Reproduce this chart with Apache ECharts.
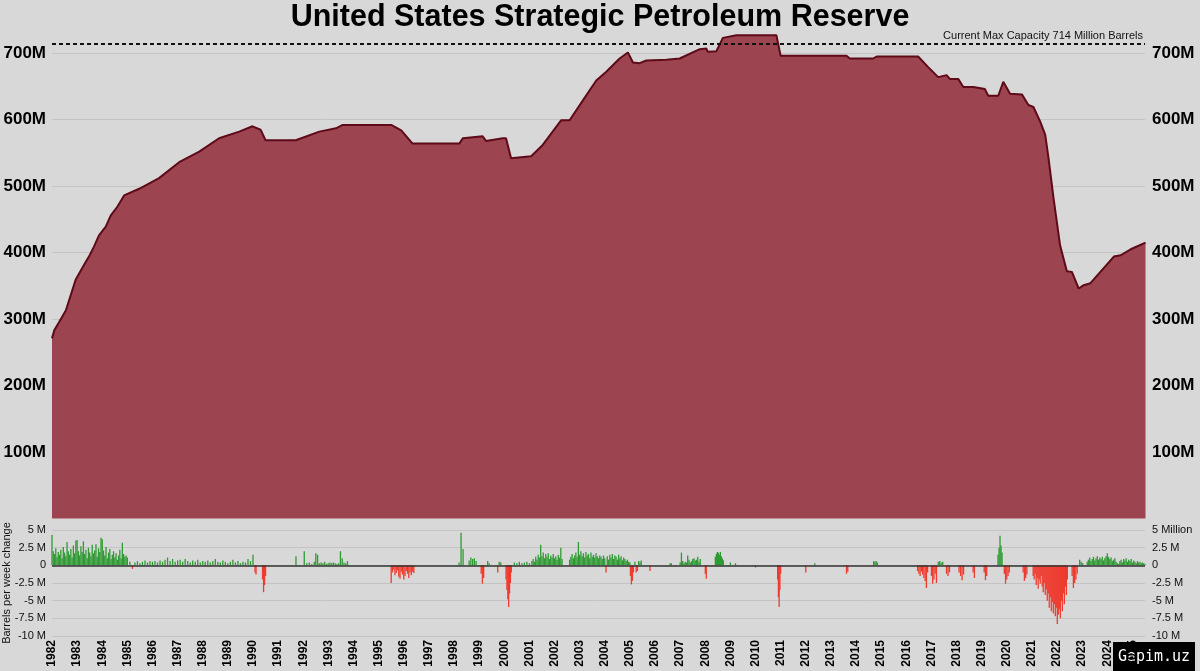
<!DOCTYPE html>
<html>
<head>
<meta charset="utf-8">
<script src="https://cdn.jsdelivr.net/npm/echarts@6/dist/echarts.min.js"></script>
<style>
  html, body { margin: 0; padding: 0; background: #d8d8d8; }
  #chart { width: 1200px; height: 671px; }
</style>
</head>
<body>
<div id="chart"></div>
<script>
// reserve level, million barrels, [year, value]
const reserveLevel = [
  [1982.00,271],[1982.09,283],[1982.29,296],[1982.55,313],[1982.94,359],[1983.34,386],[1983.47,394],
  [1983.67,409],[1983.87,426],[1984.14,439],[1984.34,456],[1984.60,469],[1984.87,486],[1985.47,496],
  [1986.26,512],[1987.06,536],[1987.86,552],[1988.65,572],[1989.45,582],[1989.98,590],[1990.30,585],
  [1990.50,569],[1991.70,569],[1992.64,582],[1993.30,587],[1993.57,592],[1995.50,592],[1995.90,584],
  [1996.35,564],[1998.21,564],[1998.35,572],[1999.14,575],[1999.27,568],[1999.94,572],[2000.07,572],
  [2000.27,542],[2001.07,545],[2001.53,562],[2002.26,599],[2002.60,599],[2003.13,629],[2003.66,659],
  [2004.06,672],[2004.59,692],[2004.92,701],[2005.12,686],[2005.39,685],[2005.65,689],[2006.45,690],
  [2006.98,692],[2007.78,706],[2008.04,707],[2008.10,702],[2008.44,703],[2008.70,723],[2009.24,727],
  [2010.83,727],[2011.00,696],[2012.03,696],[2013.62,696],[2013.75,692],[2014.68,692],[2014.82,695],
  [2016.47,695],[2016.87,679],[2017.27,664],[2017.60,667],[2017.74,661],[2018.07,661],[2018.27,649],
  [2018.67,649],[2018.73,646],[2019.13,646],[2019.26,636],[2019.66,636],[2019.86,657],[2020.13,639],
  [2020.60,638],[2020.86,622],[2021.06,619],[2021.33,597],[2021.53,577],[2021.66,542],[2021.86,482],
  [2022.12,411],[2022.39,372],[2022.59,371],[2022.86,346],[2023.06,351],[2023.33,354],[2024.26,394],
  [2024.53,396],[2024.93,405],[2025.52,415]
];

// weekly change, million barrels: [first year, spacing in years, values]
const changeBlocks = [
  [1982.00, 0.05, [4.3,2.0,1.6,2.4,1.2,1.9,1.5,2.2,1.0,2.6,1.8,1.3,3.3,2.0,1.5,2.3,1.1,2.8,1.7,3.5,
                   3.6,2.0,1.4,2.7,1.9,3.4,1.6,2.2,1.0,2.5,1.8,1.3,2.9,1.7,2.1,3.0,1.2,2.4,1.9,3.9,
                   3.7,2.1,1.4,2.6,1.0,1.8,2.3,0.9,1.5,2.0,1.1,1.7,0.8,1.4,2.2,1.0,3.2,1.6,1.2,1.4,1.1]],
  [1985.10, 0.1, [0.5,-0.5,0.4,0.6,0.3,0.5,0.7,0.4,0.6,
                  0.5,0.6,0.4,0.7,0.5,0.8,1.1,0.6,0.9,0.5,
                  0.7,0.8,0.5,0.9,0.6,0.4,0.7,0.5,0.8,0.4,
                  0.6,0.5,0.7,0.4,0.6,0.9,0.5,0.4,0.7,0.5,
                  0.3,0.5,0.8,0.4,0.6,0.3,0.5,0.4,0.9,0.6,1.5]],
  [1990.08, 0.04, [-1.0,-1.3]],
  [1990.38, 0.04, [-2.0,-3.8,-2.8,-1.5]],
  [1991.71, 0.05, [1.3]],
  [1992.04, 0.1, [2.0,0.3,0.4,0.2,0.5]],
  [1992.50, 0.07, [1.7,1.5,0.3,0.4,0.3,0.5,0.2,0.3,0.4,0.3,0.4,0.3,0.2,0.3,2.0,1.0,0.4,0.3,0.6]],
  [1995.50, 0.05, [-2.5,-1.0,-0.6,-1.4,-1.1,-0.7,-1.6,-1.9,-0.9,-1.3,-2.0,-1.5,-0.8,-1.2,-1.8,-1.0,-1.4,-0.9,-1.1]],
  [1998.20, 0.08, [0.4,4.6,2.3]],
  [1998.60, 0.07, [0.7,1.1,0.9,1.0,0.6]],
  [1999.08, 0.05, [-1.2,-2.6,-1.8]],
  [1999.34, 0.06, [0.6,0.3]],
  [1999.74, 0.06, [-1.0,0.5,0.4]],
  [2000.07, 0.035, [-2.0,-3.5,-4.8,-5.9,-4.0,-2.5,-1.0]],
  [2000.40, 0.1, [0.4,0.3,0.5,0.3,0.4,0.5,0.3]],
  [2001.10, 0.05, [0.6,0.9,0.5,1.2,0.8,1.5,1.1,2.9,1.3,1.8,1.0,1.6,1.2,1.7,0.9,1.4,1.1,1.6,1.0,1.3,0.8,1.5,1.1,2.5,0.9]],
  [2002.60, 0.05, [0.8,1.2,1.6,1.0,1.4,1.8,1.2,3.3,1.5,2.0,1.3,1.7,1.1,1.9,1.4,1.6,1.0,1.8,1.2,1.5,1.1,1.7,1.3,1.0,1.4]],
  [2003.85, 0.05, [1.2,0.9,1.4,1.0,-1.0,1.3,0.8,1.5,1.1,1.6,0.9,1.4,1.2,0.8,1.5,1.0,1.3,0.7,1.1,0.9,0.6,0.8,0.5,0.4]],
  [2005.02, 0.04, [-1.5,-2.7,-2.2,-1.0]],
  [2005.20, 0.05, [0.5,-1.0,-0.8,0.6,0.4,0.7]],
  [2005.80, 0.05, [-0.8]],
  [2006.60, 0.05, [0.3,0.3]],
  [2007.00, 0.05, [0.4,1.8,0.6,0.3,0.5,0.4,1.4,0.8,0.4,0.6,0.9,1.0,0.7,0.8,1.2,0.5,0.9]],
  [2008.00, 0.04, [-1.2,-1.9]],
  [2008.40, 0.04, [1.2,1.6,1.9,1.8,1.5,1.9,1.3,1.0,0.7]],
  [2009.00, 0.2, [0.4,0.3]],
  [2010.00, 0.05, [-0.3]],
  [2010.88, 0.03, [-2.0,-4.5,-5.9,-3.5,-1.2]],
  [2012.00, 0.05, [-1.0]],
  [2012.36, 0.05, [0.3]],
  [2013.62, 0.05, [-1.2,-0.9]],
  [2014.70, 0.05, [0.6,0.5,0.6,0.4]],
  [2016.45, 0.05, [-0.8,-1.2,-1.5,-0.9,-1.3,-1.8,-2.2,-3.2,-1.0]],
  [2017.00, 0.05, [-1.5,-2.6,-2.0,-1.2,-2.5]],
  [2017.27, 0.06, [0.5,0.6,0.4,0.5]],
  [2017.60, 0.06, [-1.2,-1.5,-1.0]],
  [2018.10, 0.06, [-1.0,-1.5,-2.1,-1.3]],
  [2018.66, 0.05, [-1.0,-1.8]],
  [2019.10, 0.05, [-1.0,-2.1,-1.5]],
  [2019.65, 0.04, [1.5,2.5,4.2,2.8,1.8]],
  [2019.90, 0.05, [-1.2,-2.6,-2.0,-1.5,-1.0]],
  [2020.65, 0.05, [-1.0,-2.2,-1.8,-1.3]],
  [2021.05, 0.04, [-1.5,-2.0,-1.2,-2.8,-1.8,-3.3,-2.0,-2.6,-1.5,-3.0,
                   -3.8,-2.5,-4.2,-3.4,-5.0,-4.0,-6.0,-4.5,-6.5,-5.2,
                   -6.8,-5.5,-7.2,-6.0,-8.3,-7.0,-6.2,-7.5,-5.0,-6.5,
                   -4.0,-5.5,-3.0,-4.2,-2.0]],
  [2022.60, 0.05, [-1.5,-3.2,-2.5,-2.0,-1.2]],
  [2022.90, 0.06, [0.8,0.5,0.3]],
  [2023.20, 0.05, [0.5,0.8,1.1,0.6,0.9,1.2,0.7,1.0,1.3,0.8,1.1,0.9,1.2,0.7,1.0,1.3,1.7,1.2,0.9,1.1,
                   0.6,0.8,1.0,0.5,0.3,0.2,0.6,0.8,0.4,0.9,0.7,1.0,0.5,0.8,0.6,0.9,0.4,0.7,0.5,0.3,
                   0.6,0.4,0.5,0.3,0.4,0.3,0.2]]
];

const maxCapacity = 714;
const levelTicks = [100, 200, 300, 400, 500, 600, 700];

const weeklyChange = [];
changeBlocks.forEach(([start, step, vals]) => {
  vals.forEach((v, i) => weeklyChange.push([+(start + i * step).toFixed(3), v]));
});

const chart = echarts.init(document.getElementById('chart'));
const font = '"Liberation Sans", Arial, sans-serif';

const levelLabel = {
  fontFamily: font, fontSize: 17, fontWeight: 'bold', color: '#000',
  formatter: v => levelTicks.includes(v) ? v + 'M' : ''
};
const changeFmt = (v, right) => {
  if (v === 0) return '0';
  if (v === 5 && right) return '5 Million';
  return v + ' M';
};

// thin weekly bars drawn through the axis scale
function drawChange(params, api) {
  const x = api.value(0), v = api.value(1);
  const base = api.coord([x, 0]);
  const top = api.coord([x, v]);
  return {
    type: 'rect',
    shape: { x: base[0] - 0.65, y: Math.min(base[1], top[1]), width: 1.3, height: Math.abs(top[1] - base[1]) },
    style: { fill: v >= 0 ? '#2f9a33' : '#ee3b2e' }
  };
}

chart.setOption({
  animation: false,
  backgroundColor: '#d8d8d8',
  title: {
    text: 'United States Strategic Petroleum Reserve',
    left: 'center', top: -3,
    textStyle: { fontFamily: font, fontSize: 30.5, fontWeight: 'bold', color: '#000' }
  },
  grid: [
    { left: 52, right: 55, top: 0, bottom: 152.5, containLabel: false, outerBoundsMode: 'none' },
    { left: 52, right: 55, top: 530, bottom: 35, containLabel: false, outerBoundsMode: 'none' }
  ],
  xAxis: [
    { type: 'value', gridIndex: 0, min: 1982, max: 2025.5, interval: 1, show: false },
    {
      type: 'value', gridIndex: 1, min: 1982, max: 2025.5, interval: 1,
      axisLine: { show: false }, axisTick: { show: false }, splitLine: { show: false },
      axisLabel: {
        rotate: 90, margin: 4, fontFamily: font, fontSize: 12, fontWeight: 'bold', color: '#000',
        showMaxLabel: false,
        formatter: v => Number.isInteger(v) ? String(v) : ''
      }
    }
  ],
  yAxis: [
    {
      type: 'value', gridIndex: 0, min: 0, max: 780, interval: 100,
      axisLine: { show: false }, axisTick: { show: false },
      splitLine: { showMaxLine: false, showMinLine: false, lineStyle: { color: '#c4c4c4', width: 1 } },
      axisLabel: Object.assign({ margin: 6 }, levelLabel)
    },
    {
      type: 'value', gridIndex: 0, min: 0, max: 780, interval: 100, position: 'right',
      axisLine: { show: false }, axisTick: { show: false }, splitLine: { show: false },
      axisLabel: Object.assign({ margin: 7 }, levelLabel)
    },
    {
      type: 'value', gridIndex: 1, min: -10, max: 5, interval: 2.5,
      axisLine: { show: false }, axisTick: { show: false },
      splitLine: { lineStyle: { color: '#c4c4c4', width: 1 } },
      axisLabel: { margin: 6, fontFamily: font, fontSize: 11, color: '#111', formatter: v => changeFmt(v, false) }
    },
    {
      type: 'value', gridIndex: 1, min: -10, max: 5, interval: 2.5, position: 'right',
      axisLine: { show: false }, axisTick: { show: false }, splitLine: { show: false },
      axisLabel: { margin: 7, fontFamily: font, fontSize: 11, color: '#111', formatter: v => changeFmt(v, true) }
    }
  ],
  series: [
    {
      name: 'Reserve', type: 'line', xAxisIndex: 0, yAxisIndex: 0,
      data: reserveLevel, showSymbol: false, symbol: 'none',
      lineStyle: { color: '#5e0a18', width: 2 },
      areaStyle: { color: '#9c4450', opacity: 1 },
      markLine: {
        silent: true, symbol: 'none',
        lineStyle: { color: '#111', type: [4, 3], width: 2 },
        label: {
          show: true, position: 'insideEndTop', distance: 2,
          formatter: 'Current Max Capacity 714 Million Barrels',
          fontFamily: font, fontSize: 11, color: '#111'
        },
        data: [{ yAxis: maxCapacity }]
      }
    },
    {
      name: 'Weekly change', type: 'custom', xAxisIndex: 1, yAxisIndex: 2,
      data: weeklyChange, renderItem: drawChange,
      markLine: {
        silent: true, symbol: 'none', label: { show: false },
        lineStyle: { color: '#333', type: 'solid', width: 1.5 },
        data: [{ yAxis: 0 }]
      }
    }
  ],
  graphic: [
    {
      type: 'text', x: 7, y: 583, rotation: Math.PI / 2,
      style: {
        text: 'Barrels per week change', fill: '#111', font: '11px "Liberation Sans", Arial, sans-serif',
        align: 'center', verticalAlign: 'middle'
      }
    },
    {
      type: 'group', right: 5, bottom: 0,
      children: [
        { type: 'rect', shape: { x: 0, y: 0, width: 82, height: 29 }, style: { fill: '#000' } },
        {
          type: 'text', x: 41, y: 15,
          style: { text: 'Gapim.uz', fill: '#fff', font: '15px "DejaVu Sans Mono", monospace', align: 'center', verticalAlign: 'middle' }
        }
      ]
    }
  ]
});
</script>
</body>
</html>
